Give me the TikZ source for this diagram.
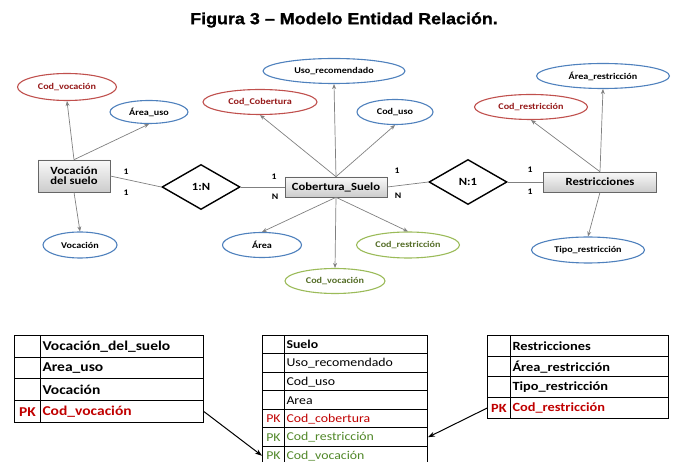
\documentclass[tikz,border=0pt]{standalone}
\usepackage{fontspec}
\setmainfont{Carlito}[FakeStretch=1.15]
\newfontfamily\titlefont{Liberation Sans}[FakeStretch=1.12,FakeBold=1.2]
\usetikzlibrary{shapes.geometric,arrows.meta}
\definecolor{ellred}{RGB}{192,80,77}
\definecolor{ellblue}{RGB}{79,129,189}
\definecolor{ellgreen}{RGB}{155,187,89}
\definecolor{txtred}{RGB}{150,25,25}
\definecolor{txtgreen}{RGB}{85,110,40}
\definecolor{pkred}{RGB}{192,0,0}
\definecolor{pkgreen}{RGB}{80,135,40}
\definecolor{congray}{RGB}{128,128,128}
\begin{document}
\begin{tikzpicture}[x=1pt,y=-1pt,
  ent/.style={draw=gray!80!black, top color=gray!5, bottom color=gray!40, line width=0.6pt,
    font=\fontsize{11}{12}\selectfont\bfseries, inner sep=0, align=center},
  attr/.style={ellipse, fill=white, line width=1.1pt, inner sep=0,
    font=\fontsize{8.8}{10}\selectfont\bfseries},
  ared/.style={attr, draw=ellred, text=txtred},
  ablue/.style={attr, draw=ellblue, text=black},
  agreen/.style={attr, draw=ellgreen, text=txtgreen},
  rel/.style={diamond, draw=black, fill=white, line width=1.4pt, inner sep=0, aspect=1.73,
    minimum width=78pt, minimum height=45pt, font=\fontsize{11}{12}\selectfont\bfseries},
  con/.style={draw=congray, line width=0.7pt, -{Stealth[length=5pt,width=4pt]}},
  link/.style={draw=congray, line width=0.7pt},
  card/.style={font=\fontsize{8.5}{9}\selectfont\bfseries, inner sep=0},
  kcell/.style={draw, line width=1pt, anchor=north west, inner sep=0, minimum width=#1},
  ncell/.style={draw, line width=1pt, anchor=north west, inner ysep=0, inner xsep=2pt,
    text width=#1-4pt, align=left},
  tarrow/.style={draw=black, line width=1pt, -{Stealth[length=7pt,width=5pt]}}
]
\useasboundingbox (0,0) rectangle (678,462);
\clip (0,0) rectangle (678,462);

% title
\node[font=\titlefont\bfseries\fontsize{16}{17}\selectfont, inner sep=0] (title) at (344,20)
  {Figura 3 – Modelo Entidad Relación.};

% entities
\node[ent, minimum width=72pt, minimum height=32pt] (voc) at (74,176) {Vocación\\[-2pt]del suelo};
\node[ent, minimum width=102pt, minimum height=20pt] (cob) at (336,187) {Cobertura\_Suelo};
\node[ent, minimum width=113pt, minimum height=20pt] (res) at (600,182) {Restricciones};

% relationships
\node[rel] (r1) at (201,187) {1:N};
\node[rel] (r2) at (468,182) {N:1};

% attributes of Vocación del suelo
\node[ared, minimum width=99pt, minimum height=27pt] (a1) at (67,87) {Cod\_vocación};
\node[ablue, minimum width=78pt, minimum height=23pt] (a2) at (149,112) {Área\_uso};
\node[ablue, minimum width=74pt, minimum height=26pt] (a3) at (80,245) {Vocación};

% attributes of Cobertura_Suelo
\node[ablue, minimum width=142pt, minimum height=25pt] (b1) at (334,71) {Uso\_recomendado};
\node[ared, minimum width=114pt, minimum height=25pt] (b2) at (260,102) {Cod\_Cobertura};
\node[ablue, minimum width=76pt, minimum height=25pt] (b3) at (395,112) {Cod\_uso};
\node[ablue, minimum width=79pt, minimum height=25pt] (b4) at (262,245) {Área};
\node[agreen, minimum width=103pt, minimum height=26pt] (b5) at (408,245) {Cod\_restricción};
\node[agreen, minimum width=100pt, minimum height=25pt] (b6) at (335,281) {Cod\_vocación};

% attributes of Restricciones
\node[ablue, minimum width=133pt, minimum height=25pt] (c1) at (603,76) {Área\_restricción};
\node[ared, minimum width=113pt, minimum height=25pt] (c2) at (531,107) {Cod\_restricción};
\node[ablue, minimum width=113pt, minimum height=26pt] (c3) at (588,250) {Tipo\_restricción};

% attribute connectors
\draw[con] (voc.north) -- (a1.south);
\draw[con] (voc.north) -- (a2.south);
\draw[con] (voc.south) -- (a3.north);
\draw[con] (cob.north) -- (b1.south);
\draw[con] (cob.north) -- (b2.south);
\draw[con] (cob.north) -- (b3.south);
\draw[con] (cob.south) -- (b4.north);
\draw[con] (cob.south) -- (b5.north);
\draw[con] (cob.south) -- (b6.north);
\draw[con] (res.north) -- (c1.south);
\draw[con] (res.north) -- (c2.south);
\draw[con] (res.south) -- (c3.north);

% relationship links
\draw[link] (voc.east) -- (r1.west);
\draw[link] (r1.east) -- (cob.west);
\draw[link] (cob.east) -- (r2.west);
\draw[link] (r2.east) -- (res.west);

% cardinalities
\node[card] (k1) at (126,172) {1};
\node[card] (k2) at (126,193) {1};
\node[card] (k3) at (274,177) {1};
\node[card] (k4) at (275,197) {N};
\node[card] (k5) at (397,171) {1};
\node[card] (k6) at (398,196) {N};
\node[card] (k7) at (530,170) {1};
\node[card] (k8) at (530,192) {1};

% table 1
\begin{scope}[every node/.append style={font=\fontsize{13.5}{14}\selectfont\bfseries, minimum height=21.75pt}]
\node[kcell=26pt] (t1k1) at (14,335) {};
\node[ncell=163pt] (t1n1) at (40,335) {Vocación\_del\_suelo};
\node[kcell=26pt] (t1k2) at (14,356.75) {};
\node[ncell=163pt] (t1n2) at (40,356.75) {Area\_uso};
\node[kcell=26pt] (t1k3) at (14,378.5) {};
\node[ncell=163pt] (t1n3) at (40,378.5) {Vocación};
\node[kcell=26pt, text=pkred] (t1k4) at (14,400.25) {PK};
\node[ncell=163pt, text=pkred] (t1n4) at (40,400.25) {Cod\_vocación};
\end{scope}

% table 2
\begin{scope}[every node/.append style={font=\fontsize{12}{12}\selectfont, minimum height=18.5pt}]
\node[kcell=22pt] (t2k1) at (262,335) {};
\node[ncell=143pt, font=\fontsize{12}{12}\selectfont\bfseries] (t2n1) at (284,335) {Suelo};
\node[kcell=22pt] (t2k2) at (262,353.5) {};
\node[ncell=143pt] (t2n2) at (284,353.5) {Uso\_recomendado};
\node[kcell=22pt] (t2k3) at (262,372) {};
\node[ncell=143pt] (t2n3) at (284,372) {Cod\_uso};
\node[kcell=22pt] (t2k4) at (262,390.5) {};
\node[ncell=143pt] (t2n4) at (284,390.5) {Area};
\node[kcell=22pt, text=pkred] (t2k5) at (262,409) {PK};
\node[ncell=143pt, text=pkred] (t2n5) at (284,409) {Cod\_cobertura};
\node[kcell=22pt, text=pkgreen] (t2k6) at (262,427.5) {PK};
\node[ncell=143pt, text=pkgreen] (t2n6) at (284,427.5) {Cod\_restricción};
\node[kcell=22pt, text=pkgreen] (t2k7) at (262,446) {PK};
\node[ncell=143pt, text=pkgreen] (t2n7) at (284,446) {Cod\_vocación};
\end{scope}

% table 3
\begin{scope}[every node/.append style={font=\fontsize{12.5}{13}\selectfont\bfseries, minimum height=20.75pt}]
\node[kcell=23pt] (t3k1) at (487,335) {};
\node[ncell=158pt] (t3n1) at (510,335) {Restricciones};
\node[kcell=23pt] (t3k2) at (487,355.75) {};
\node[ncell=158pt] (t3n2) at (510,355.75) {Área\_restricción};
\node[kcell=23pt] (t3k3) at (487,376.5) {};
\node[ncell=158pt] (t3n3) at (510,376.5) {Tipo\_restricción};
\node[kcell=23pt, text=pkred] (t3k4) at (487,397.25) {PK};
\node[ncell=158pt, text=pkred] (t3n4) at (510,397.25) {Cod\_restricción};
\end{scope}

% table arrows
\draw[tarrow] (t1n4.east) -- (t2k7.west);
\draw[tarrow] (t3k4.west) -- (t2n6.east);
\end{tikzpicture}
\end{document}
